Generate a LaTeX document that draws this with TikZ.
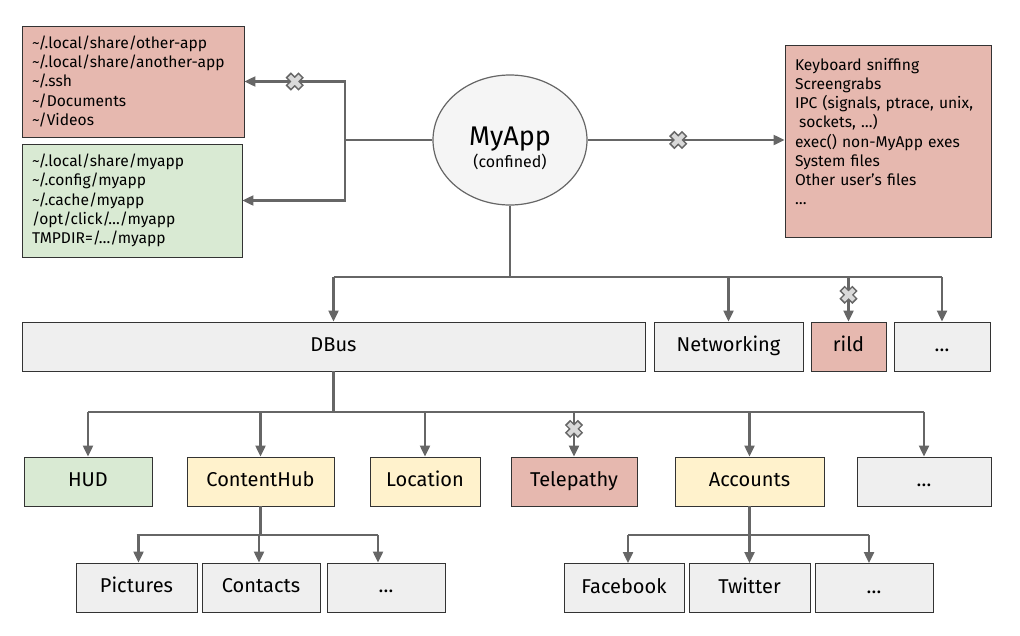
\documentclass[tikz,border=0pt]{standalone}
\usepackage{fontspec}
\setmainfont{Fira Sans}
\usetikzlibrary{arrows.meta,shapes.geometric}

\definecolor{denied}{HTML}{E6B8AF}
\definecolor{allowed}{HTML}{D9EAD3}
\definecolor{mediated}{HTML}{FFF2CC}
\definecolor{plain}{HTML}{EFEFEF}
\definecolor{wire}{HTML}{666666}
\definecolor{rim}{HTML}{333333}

\tikzset{
  box/.style={draw=rim,line width=0.9pt,inner sep=0pt,minimum height=49,
    text height=14pt,text depth=4pt,font=\fontsize{20}{24}\selectfont},
  listbox/.style={draw=rim,line width=0.9pt,inner sep=10pt,align=left,
    font=\fontsize{15.6}{19.2}\selectfont},
  bus/.style={draw=wire,line width=2.2pt},
  link/.style={bus,-{Triangle[length=11pt,width=10pt]}},
  blocked/.pic={
    \draw[-,line width=7.5pt,wire] (-6.5,-6.5) -- (6.5,6.5) (-6.5,6.5) -- (6.5,-6.5);
    \draw[-,line width=4.5pt,gray!30] (-5.3,-5.3) -- (5.3,5.3) (-5.3,5.3) -- (5.3,-5.3);
  },
}

\begin{document}
\begin{tikzpicture}[x=1pt,y=-1pt]
\useasboundingbox (0,0) rectangle (1020,635);

\node[ellipse,draw=wire,line width=1.2pt,fill=plain!60!white,minimum width=154,minimum height=130,
  align=center,inner sep=0pt] (app) at (510,140)
  {{\fontsize{27}{30}\selectfont\rule{0pt}{36pt}MyApp}\\[2pt]{\fontsize{16}{18}\selectfont(confined)}};

\node[listbox,fill=denied,minimum width=222,minimum height=107,text width=202] (foreign) at (133,81.5)
  {\textasciitilde/.local/share/other-app\\\textasciitilde/.local/share/another-app\\
   \textasciitilde/.ssh\\\textasciitilde/Documents\\\textasciitilde/Videos};
\node[listbox,fill=allowed,minimum width=220,minimum height=113,text width=200] (own) at (132,200.5)
  {\textasciitilde/.local/share/myapp\\\textasciitilde/.config/myapp\\\textasciitilde/.cache/myapp\\
   /opt/click/…/myapp\\TMPDIR=/…/myapp};
\node[listbox,fill=denied,minimum width=206,minimum height=192,text width=186] (system) at (888,141)
  {Keyboard sniffing\\Screengrabs\\IPC (signals, ptrace, unix,\\\hspace*{4pt}sockets, …)\\
   exec() non-MyApp exes\\System files\\Other user’s files\\…\\\mbox{}};

\node[box,fill=plain,minimum width=623] (dbus) at (333.5,346.5) {DBus};
\node[box,fill=plain,minimum width=149] (net) at (728.5,346.5) {Networking};
\node[box,fill=denied,minimum width=75] (rild) at (848.5,346.5) {rild};
\node[box,fill=plain,minimum width=96] (more1) at (942,346.5) {…};

\node[box,fill=allowed,minimum width=128] (hud) at (88,481.5) {HUD};
\node[box,fill=mediated,minimum width=147] (hub) at (260.5,481.5) {ContentHub};
\node[box,fill=mediated,minimum width=110] (loc) at (425,481.5) {Location};
\node[box,fill=denied,minimum width=126] (tele) at (574,481.5) {Telepathy};
\node[box,fill=mediated,minimum width=149] (acc) at (749.5,481.5) {Accounts};
\node[box,fill=plain,minimum width=134] (more2) at (924,481.5) {…};

\node[box,fill=plain,minimum width=121] (pics) at (136.5,587.5) {Pictures};
\node[box,fill=plain,minimum width=118] (cont) at (261,587.5) {Contacts};
\node[box,fill=plain,minimum width=118] (more3) at (386,587.5) {…};
\node[box,fill=plain,minimum width=120] (fb) at (624,588) {Facebook};
\node[box,fill=plain,minimum width=121] (tw) at (749.5,588) {Twitter};
\node[box,fill=plain,minimum width=118] (more4) at (874,588) {…};

\coordinate (split) at (345,140);
\coordinate (busA) at (508,277);
\coordinate (busB) at (334,412);
\coordinate (busC) at (259,535);
\coordinate (busD) at (749,535);

\draw[bus] (app.west) -- (split);
\draw[link] (split) |- (foreign.east) pic[pos=0.75]{blocked};
\draw[link] (split) |- (own.east);
\draw[link] (app.east) -- (app.east -| system.west) pic[pos=0.46]{blocked};

\draw[bus] (app.south) -- (app.south |- busA);
\draw[bus] (dbus.north |- busA) -- (more1.north |- busA);
\foreach \n in {dbus,net,more1} \draw[link] (\n.north |- busA) -- (\n.north);
\draw[link] (rild.north |- busA) -- (rild.north) pic[pos=0.4]{blocked};

\draw[bus,line width=3.5pt] (dbus.south) -- (dbus.south |- busB);
\draw[bus] (hud.north |- busB) -- (more2.north |- busB);
\foreach \n in {hud,hub,loc,acc,more2} \draw[link] (\n.north |- busB) -- (\n.north);
\draw[link] (tele.north |- busB) -- (tele.north) pic[pos=0.38]{blocked};

\draw[bus] (hub.south) -- (hub.south |- busC);
\draw[bus] (pics.north |- busC) -- ([xshift=-8]more3.north |- busC);
\foreach \n/\s in {pics/2,cont/-2,more3/-8} \draw[link] ([xshift=\s]\n.north |- busC) -- ([xshift=\s]\n.north);

\draw[bus] (acc.south) -- (acc.south |- busD);
\draw[bus] ([xshift=4]fb.north |- busD) -- ([xshift=-5]more4.north |- busD);
\foreach \n/\s in {fb/4,tw/0,more4/-5} \draw[link] ([xshift=\s]\n.north |- busD) -- ([xshift=\s]\n.north);
\end{tikzpicture}
\end{document}
